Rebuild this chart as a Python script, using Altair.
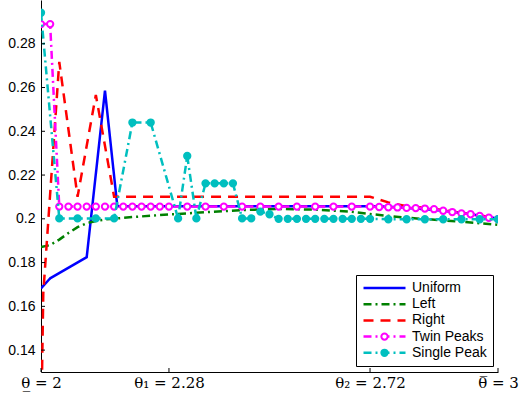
import altair as alt
import pandas as pd

# ---- series definitions -------------------------------------------------
SERIES = ["Uniform", "Left", "Right", "Twin Peaks", "Single Peak"]
COLORS = ["#0000ff", "#008000", "#ff0000", "#ff00ff", "#00bfbf"]
LINE_DASHES = [[1, 0], [8, 4, 2, 4], [10, 7], [8, 4, 2, 4], [8, 4, 2, 4]]

MARKED = ["Twin Peaks", "Single Peak"]
MARKER_FILL = ["#ffffff", "#00bfbf"]
MARKER_EDGE = ["#ff00ff", "#00bfbf"]

uniform_x = [2.00, 2.02, 2.10, 2.14, 2.167, 2.72, 2.76, 2.80, 2.84, 2.88, 2.92, 2.96, 3.00]
uniform_y = [0.1682, 0.1728, 0.1825, 0.2586, 0.2058, 0.2058, 0.2055, 0.2050, 0.2044,
             0.2037, 0.2027, 0.2015, 0.2001]

left_x = [2.00, 2.02, 2.04, 2.06, 2.08, 2.10, 2.12, 2.14, 2.20, 2.28, 2.36, 2.44,
          2.52, 2.60, 2.68, 2.72, 2.80, 2.88, 2.96, 3.00]
left_y = [0.1871, 0.1880, 0.1905, 0.1935, 0.1962, 0.1980, 0.1990, 0.1997, 0.2008,
          0.2020, 0.2030, 0.2040, 0.2045, 0.2042, 0.2032, 0.2022, 0.2005, 0.1993,
          0.1980, 0.1973]

right_x = [2.000, 2.005, 2.04, 2.08, 2.12, 2.16, 2.72, 2.76, 2.80, 2.84, 2.88, 2.92,
           2.96, 3.00]
right_y = [0.1000, 0.1660, 0.2717, 0.2101, 0.2566, 0.2101, 0.2101, 0.2075, 0.2058,
           0.2050, 0.2040, 0.2027, 0.2015, 0.2005]

twin_x = [2.00, 2.02, 2.04, 2.06, 2.08, 2.10, 2.12, 2.14, 2.16, 2.18, 2.20, 2.22,
          2.24, 2.26, 2.28, 2.32, 2.36, 2.40, 2.44, 2.48, 2.52, 2.56, 2.60, 2.64,
          2.68, 2.72, 2.74, 2.76, 2.78, 2.80, 2.82, 2.84, 2.86, 2.88, 2.90, 2.92,
          2.94, 2.96, 2.98, 3.00]
twin_y = [0.2890, 0.2890, 0.2056, 0.2056, 0.2056, 0.2056, 0.2056, 0.2056, 0.2056,
          0.2056, 0.2056, 0.2056, 0.2056, 0.2056, 0.2056, 0.2056, 0.2056, 0.2056,
          0.2056, 0.2056, 0.2056, 0.2056, 0.2056, 0.2056, 0.2056, 0.2056, 0.2054,
          0.2053, 0.2052, 0.2050, 0.2049, 0.2047, 0.2044, 0.2037, 0.2031, 0.2025,
          0.2021, 0.2013, 0.2005, 0.1999]

single_x = [2.00, 2.04, 2.08, 2.12, 2.16, 2.20, 2.24, 2.30, 2.32, 2.34, 2.36, 2.38,
            2.40, 2.42, 2.44, 2.46, 2.48, 2.50, 2.52, 2.54, 2.56, 2.58, 2.60, 2.62,
            2.64, 2.66, 2.68, 2.70, 2.72, 2.76, 2.80, 2.84, 2.88, 2.92, 2.96, 3.00]
single_y = [0.2942, 0.2002, 0.2002, 0.2002, 0.2002, 0.2440, 0.2440, 0.2002, 0.2287,
            0.2002, 0.2162, 0.2162, 0.2162, 0.2162, 0.2002, 0.2002, 0.2033, 0.2021,
            0.2000, 0.2000, 0.2000, 0.2000, 0.2000, 0.2000, 0.2000, 0.2000, 0.2000,
            0.2000, 0.2000, 0.1998, 0.1998, 0.1998, 0.1998, 0.1998, 0.1998, 0.1998]

X_TICKS = [2, 2.28, 2.72, 3]
X_TICK_LABELS = ["\u03b8\u0332 = 2", "\u03b8\u2081 = 2.28", "\u03b8\u2082 = 2.72", "\u03b8\u0305 = 3"]
Y_TICKS = [0.14, 0.16, 0.18, 0.20, 0.22, 0.24, 0.26, 0.28]

# ---- long-form table ----------------------------------------------------
rows = []
for name, xs, ys in [("Uniform", uniform_x, uniform_y), ("Left", left_x, left_y),
                     ("Right", right_x, right_y), ("Twin Peaks", twin_x, twin_y),
                     ("Single Peak", single_x, single_y)]:
    for xv, yv in zip(xs, ys):
        rows.append({"series": name, "theta": xv, "value": yv})
df = pd.DataFrame(rows)

W, H = 457, 372
LW = 2.5
x_scale = alt.Scale(domain=[2, 3], nice=False, zero=False)
y_scale = alt.Scale(domain=[0.13, 0.30], nice=False, zero=False)
color_scale = alt.Scale(domain=SERIES, range=COLORS)
dash_scale = alt.Scale(domain=SERIES, range=LINE_DASHES)
fill_scale = alt.Scale(domain=MARKED, range=MARKER_FILL)
edge_scale = alt.Scale(domain=MARKED, range=MARKER_EDGE)

label_lookup = "[" + ",".join("'%s'" % s for s in X_TICK_LABELS) + "]"
tick_lookup = "[" + ",".join(str(v) for v in X_TICKS) + "]"

x_axis = alt.Axis(values=X_TICKS, title=None, ticks=False, grid=False,
                  domainColor="black", domainWidth=1,
                  labelExpr=f"{label_lookup}[indexof({tick_lookup}, datum.value)]",
                  labelFont="DejaVu Serif", labelFontSize=15, labelColor="black",
                  labelPadding=3, labelFlush=False, labelOverlap=False)
y_axis = alt.Axis(values=Y_TICKS, title=None, ticks=False, grid=False, format=".2~f",
                  domainColor="black", domainWidth=1,
                  labelFont="Liberation Sans", labelFontSize=14, labelColor="black",
                  labelPadding=6)

# legend for the line styles (framed box)
LEG_X, LEG_Y, LEG_PAD, ROW_H, ROW_GAP, SYM_W = 315, 275, 6, 14, 2.2, 42
line_legend = alt.Legend(
    title=None, orient="none", legendX=LEG_X, legendY=LEG_Y, direction="vertical",
    symbolType="stroke", symbolSize=SYM_W * SYM_W, symbolStrokeWidth=LW,
    clipHeight=ROW_H, labelFont="Liberation Sans", labelFontSize=14,
    labelColor="black", labelOffset=5, rowPadding=ROW_GAP, padding=LEG_PAD,
    strokeColor="black", fillColor="white", cornerRadius=0,
)
# marker glyphs laid over the middle of the last two legend lines (no text)
marker_legend = alt.Legend(
    title=None, orient="none",
    legendX=LEG_X + LEG_PAD + (SYM_W + 3) / 2 - ROW_H / 2,
    legendY=LEG_Y + LEG_PAD + 3 * (ROW_H + ROW_GAP),
    direction="vertical", symbolType="circle", symbolSize=40, symbolStrokeWidth=2,
    clipHeight=ROW_H, labelFontSize=14, labelExpr="''", rowPadding=ROW_GAP,
    padding=0, symbolOpacity=1,
)

base = alt.Chart(df)
X = alt.X("theta:Q", scale=x_scale, axis=x_axis)
Y = alt.Y("value:Q", scale=y_scale, axis=y_axis)

main_lines = base.transform_filter(
    alt.FieldOneOfPredicate(field="series", oneOf=SERIES[:4])
).mark_line(strokeWidth=LW, clip=True).encode(
    x=X, y=Y,
    color=alt.Color("series:N", scale=color_scale, sort=SERIES, legend=line_legend),
    strokeDash=alt.StrokeDash("series:N", scale=dash_scale, sort=SERIES, legend=line_legend),
)

twin_pts = base.transform_filter(alt.datum.series == "Twin Peaks").mark_point(
    shape="circle", filled=True, strokeWidth=2, size=40, opacity=1, clip=True
).encode(
    x=X, y=Y,
    fill=alt.Fill("series:N", scale=fill_scale, sort=MARKED, legend=marker_legend),
    stroke=alt.Stroke("series:N", scale=edge_scale, sort=MARKED, legend=marker_legend),
)

single_line = base.transform_filter(alt.datum.series == "Single Peak").mark_line(
    strokeWidth=LW, clip=True
).encode(
    x=X, y=Y,
    color=alt.Color("series:N", scale=color_scale, sort=SERIES, legend=None),
    strokeDash=alt.StrokeDash("series:N", scale=dash_scale, sort=SERIES, legend=None),
)

single_pts = base.transform_filter(alt.datum.series == "Single Peak").mark_point(
    shape="circle", filled=True, strokeWidth=2, size=40, opacity=1, clip=True
).encode(
    x=X, y=Y,
    fill=alt.Fill("series:N", scale=fill_scale, sort=MARKED, legend=marker_legend),
    stroke=alt.Stroke("series:N", scale=edge_scale, sort=MARKED, legend=marker_legend),
)

# inward-pointing tick marks
xt = pd.DataFrame({"t": X_TICKS})
yt = pd.DataFrame({"t": Y_TICKS})
x_ticks = alt.Chart(xt).mark_rule(color="black", strokeWidth=1).encode(
    x=alt.X("t:Q", scale=x_scale), y=alt.value(H), y2=alt.value(H - 4))
y_ticks = alt.Chart(yt).mark_rule(color="black", strokeWidth=1).encode(
    y=alt.Y("t:Q", scale=y_scale), x=alt.value(0), x2=alt.value(4))

chart = alt.layer(main_lines, twin_pts, single_line, single_pts, x_ticks, y_ticks).properties(
    width=W, height=H, autosize="none",
    padding={"left": 41, "top": 0, "right": 21, "bottom": 22},
    background="white",
).configure_view(strokeWidth=0)

chart.save("out.html", embed_options={"renderer": "svg", "actions": False})
